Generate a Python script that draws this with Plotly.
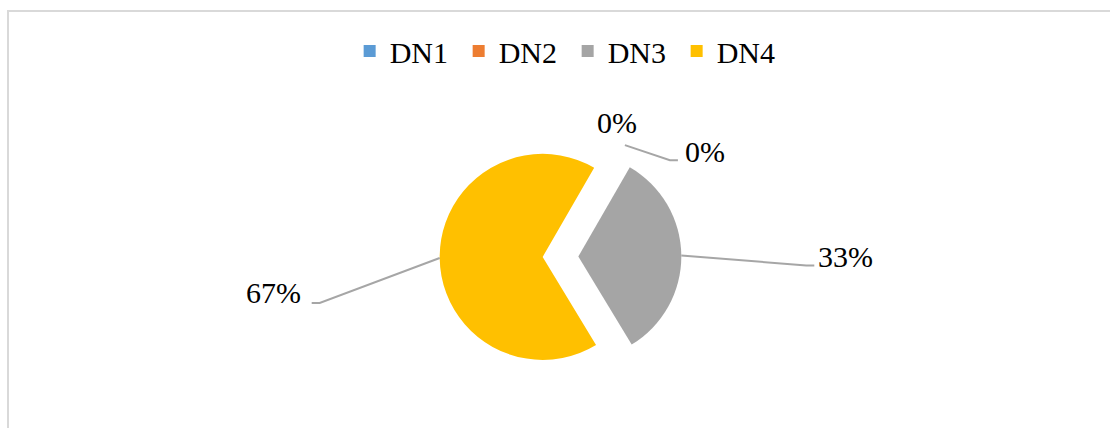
import math
import plotly.graph_objects as go

# ---- data ----
categories = ["DN1", "DN2", "DN3", "DN4"]
percent_values = [0, 0, 33, 67]
slice_colors = ["#5B9BD5", "#ED7D31", "#A5A5A5", "#FFC000"]

# ---- layout / style (pixels) ----
W, H = 1110, 428
pie_cx, pie_cy, pie_r = 560.5, 256.7, 103.0
pull = 0.173
rotation = 30
# label placement relative to the leader start point (dx, dy), knee offset, and whether a leader is drawn
label_style = {
    "DN1": dict(start_extra=8, label=(-8, -23), knee=None, line=False),
    "DN2": dict(start_extra=8, label=(80, 6), knee=(45, 15), line=True),
    "DN3": dict(start_extra=0, label=(164, 1), knee=(125, 10), line=True),
    "DN4": dict(start_extra=0, label=(-166, 35), knee=(-120, 45), line=True),
}
font_family = "Liberation Serif, Times New Roman, serif"
font_size = 30

# domain from the pie geometry (plotly: r = min(w,h) / (2 + 2*maxPull))
box = pie_r * (2 + 2 * pull)
half_w = 150.0
dom_x = [(pie_cx - half_w) / W, (pie_cx + half_w) / W]
dom_y = [1 - (pie_cy + box / 2) / H, 1 - (pie_cy - box / 2) / H]

fig = go.Figure(
    go.Pie(
        labels=categories,
        values=percent_values,
        marker=dict(colors=slice_colors, line=dict(width=0)),
        sort=False,
        direction="clockwise",
        rotation=rotation,
        pull=[pull] * len(categories),
        textinfo="none",
        hoverinfo="label+percent",
        domain=dict(x=dom_x, y=dom_y),
        showlegend=True,
    )
)

def px2paper(x, y):
    return x / W, 1 - y / H

total = sum(percent_values)
cum = 0.0
annotations = []
shapes = []
for cat, v in zip(categories, percent_values):
    mid = rotation + (cum + v / 2) / total * 360
    cum += v
    st = label_style[cat]
    rr = pie_r * (1 + pull) + st["start_extra"]
    a = math.radians(mid)
    sx = pie_cx + rr * math.sin(a)
    sy = pie_cy - rr * math.cos(a)
    lx, ly = sx + st["label"][0], sy + st["label"][1]
    text = f"{round(v / total * 100)}%"
    px_, py_ = px2paper(lx, ly)
    annotations.append(dict(
        x=px_, y=py_, xref="paper", yref="paper", text=text, showarrow=False,
        xanchor="center", yanchor="middle",
        font=dict(family=font_family, size=font_size, color="#000000"),
    ))
    if st["line"]:
        kx, ky = sx + st["knee"][0], sy + st["knee"][1]
        ex = kx + (8 if st["knee"][0] > 0 else -8)
        pts = [px2paper(sx, sy), px2paper(kx, ky), px2paper(ex, ky)]
        path = "M " + " L ".join(f"{p[0]},{p[1]}" for p in pts)
        shapes.append(dict(type="path", xref="paper", yref="paper", path=path,
                           line=dict(color="#A6A6A6", width=2)))

# chart-area border (top and left visible)
bx0, by0 = px2paper(8, 430)
bx1, by1 = px2paper(8, 11)
bx2, by2 = px2paper(1112, 11)
shapes.append(dict(type="path", xref="paper", yref="paper",
                   path=f"M {bx0},{by0} L {bx1},{by1} L {bx2},{by2}",
                   line=dict(color="#D9D9D9", width=2)))

fig.update_layout(
    width=W, height=H,
    margin=dict(l=0, r=0, t=0, b=0),
    paper_bgcolor="white",
    plot_bgcolor="white",
    font=dict(family=font_family, size=font_size, color="#000000"),
    legend=dict(
        orientation="h", x=0.5114, xanchor="center", y=1 - 51 / H, yanchor="middle",
        font=dict(family=font_family, size=font_size, color="#000000"),
        bgcolor="rgba(0,0,0,0)", itemwidth=30, traceorder="normal",
        entrywidth=64, entrywidthmode="pixels",
    ),
    annotations=annotations,
    shapes=shapes,
)

fig.write_html("out.html", config={"displayModeBar": False})
